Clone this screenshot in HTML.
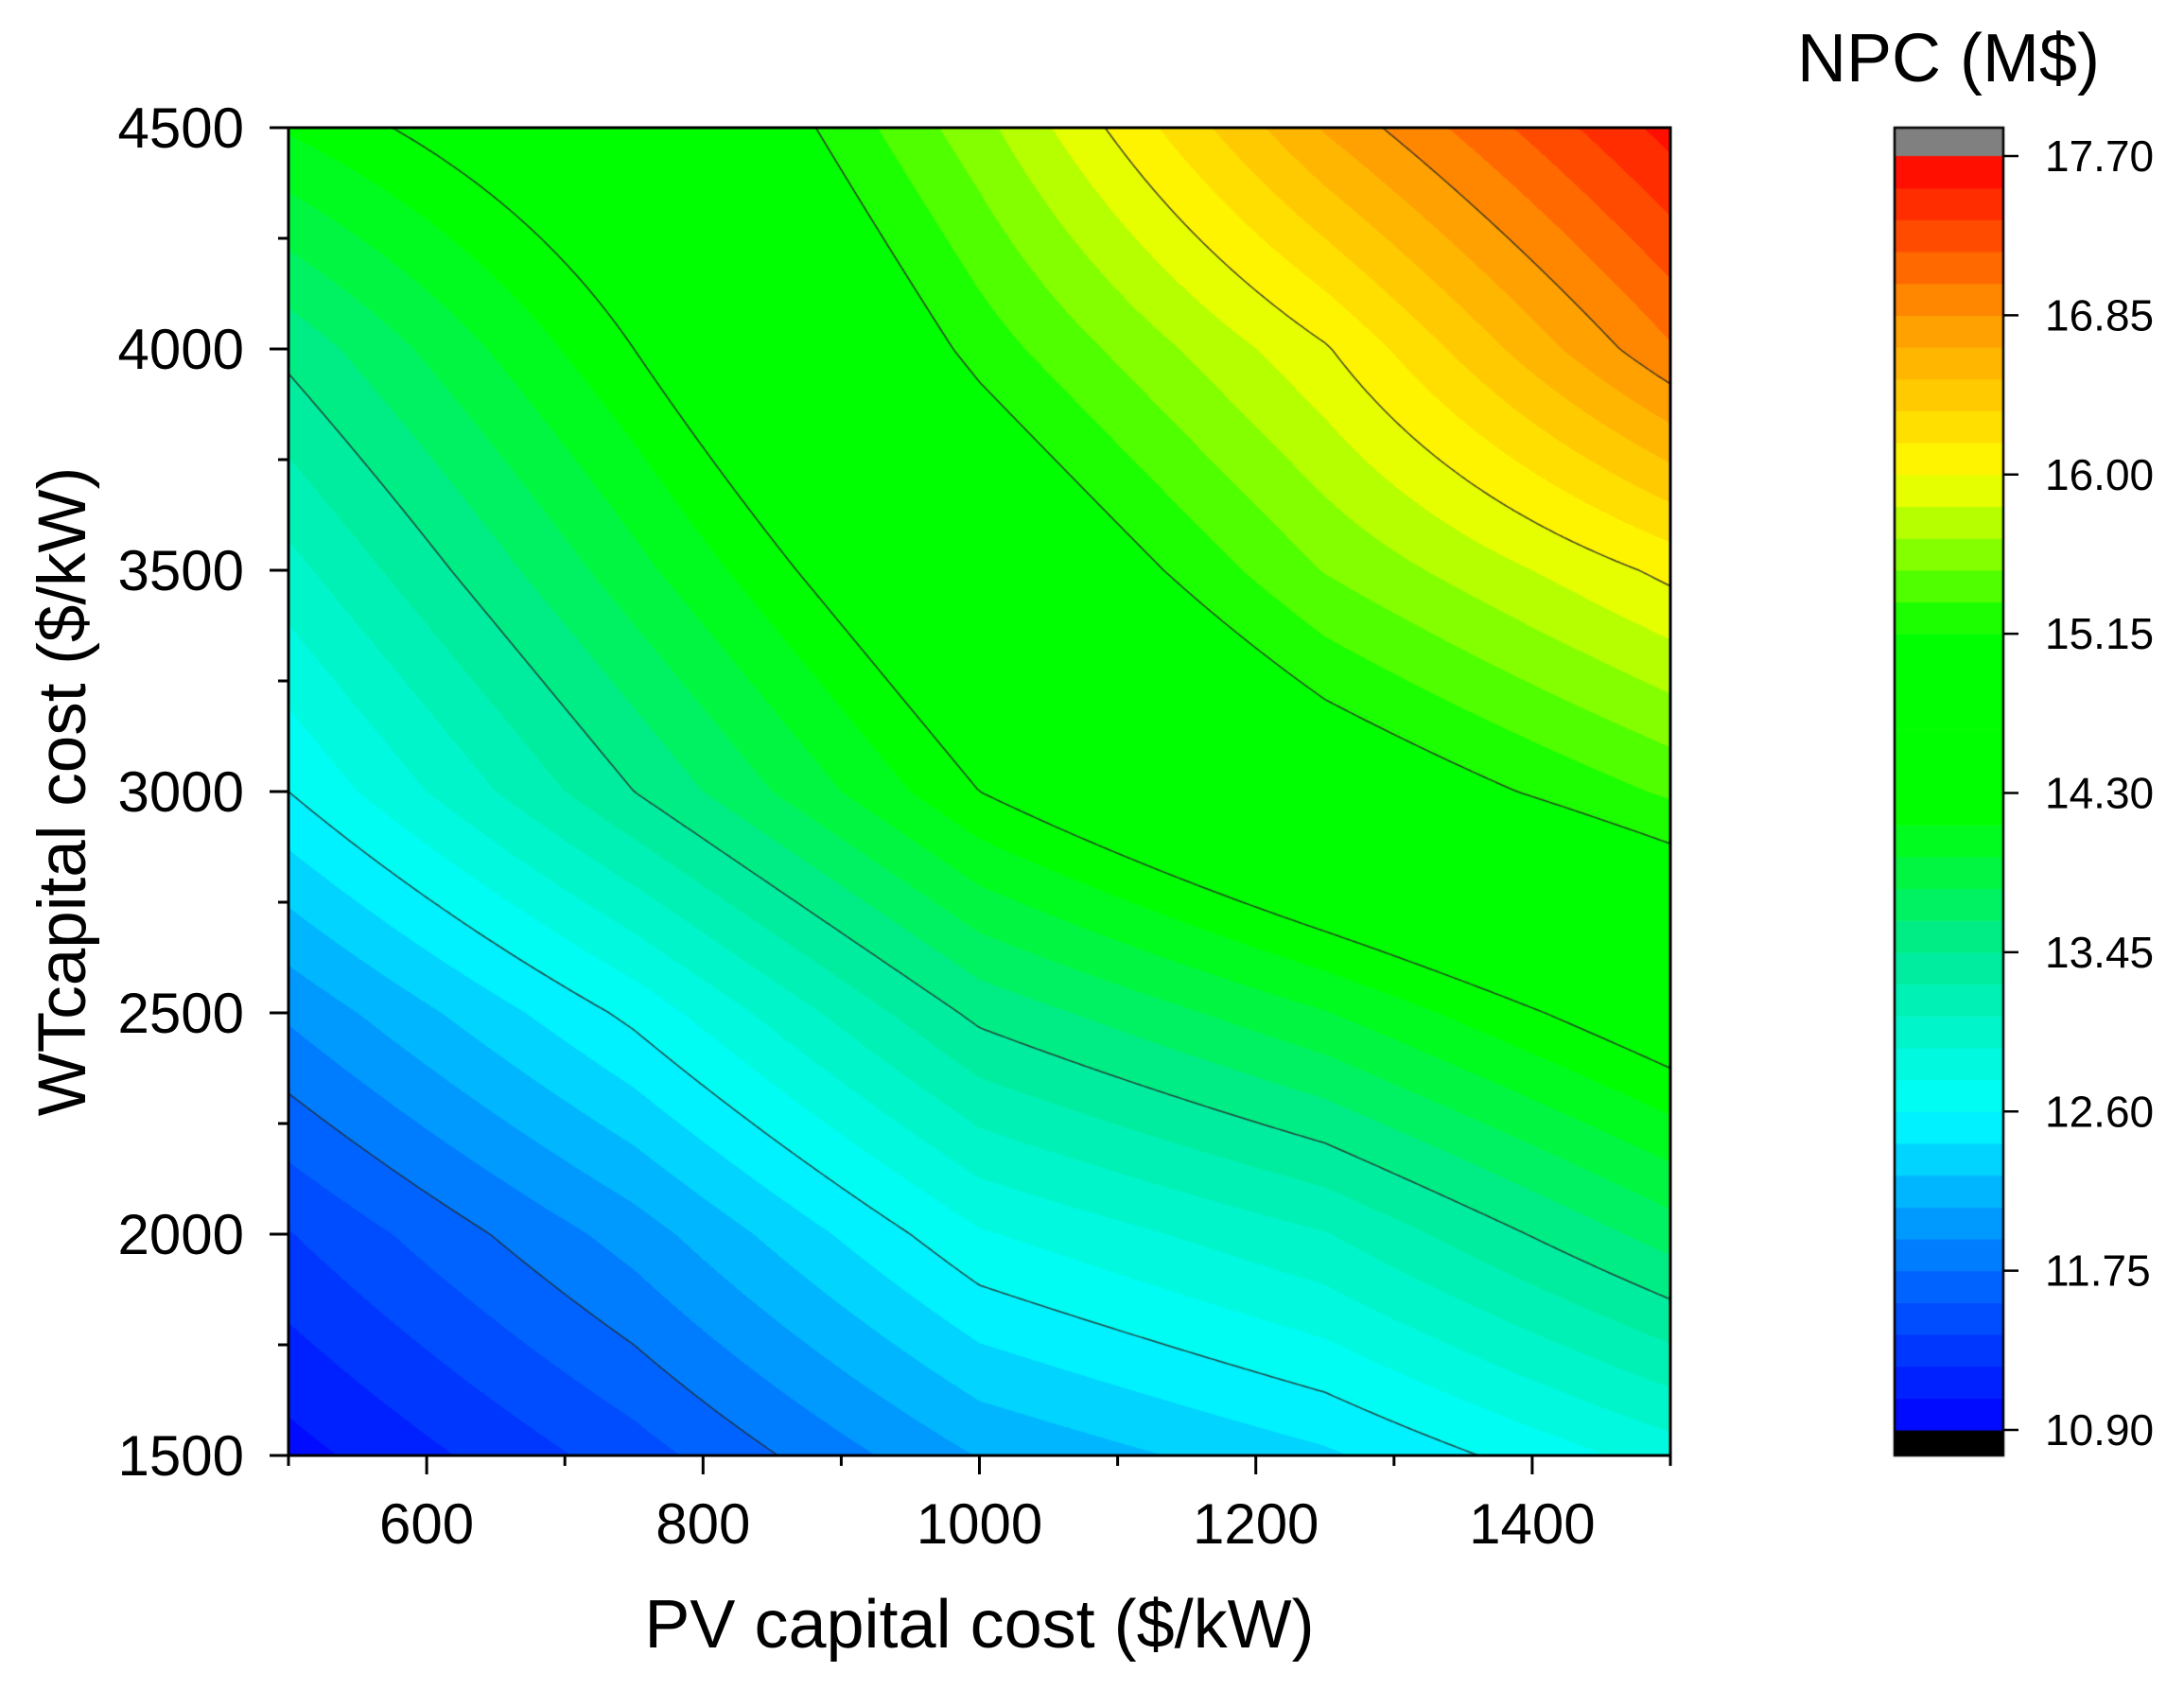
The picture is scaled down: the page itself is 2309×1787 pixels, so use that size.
<!DOCTYPE html>
<html><head><meta charset="utf-8">
<style>
html,body{margin:0;padding:0;background:#fff;}
#wrap{position:relative;width:2309px;height:1787px;overflow:hidden;font-family:"Liberation Sans",sans-serif;}
canvas{position:absolute;left:0;top:0;}
</style></head>
<body>
<div id="wrap">
<canvas id="c" width="2309" height="1787"></canvas>
<svg id="s" width="2309" height="1787" style="position:absolute;left:0;top:0"></svg>
</div>
<script>
// ---- data ----
const pvValues = [500, 750, 1000, 1250, 1500];
const wtValues = [1500, 2000, 2500, 3000, 3500, 4000, 4500];
const npc500  = [11.0, 11.4, 11.95, 12.6, 13.05, 13.5, 14.15];
const npc750  = [11.5, 12.0, 12.65, 13.45, 13.9, 14.3, 14.65];
const npc1000 = [12.1, 12.75, 13.5, 14.3, 14.75, 15.22, 15.6];
const npc1250 = [12.4, 13.1, 13.95, 14.9, 15.5, 15.98, 16.7];
const npc1500 = [12.85, 13.7, 14.5, 15.35, 16.05, 17.0, 17.6];
const xTicks = [600, 800, 1000, 1200, 1400];
const yTicks = [1500, 2000, 2500, 3000, 3500, 4000, 4500];
const cbTicks = ["10.90","11.75","12.60","13.45","14.30","15.15","16.00","16.85","17.70"];
const contourLevels = [11.75, 12.60, 13.45, 14.30, 15.15, 16.00, 16.85];

const grid = [npc500, npc750, npc1000, npc1250, npc1500];
const PL=305, PR=1766, PT=135, PB=1539;
const xMin=500, xMax=1500, yMin=1500, yMax=4500;
const X = v => PL + (v - xMin) / (xMax - xMin) * (PR - PL);
const Y = v => PB - (v - yMin) / (yMax - yMin) * (PB - PT);
const vMin=10.9, vMax=17.7, step=0.17;

function interp(pv, wt){
  let i=0; while(i<pvValues.length-2 && pv>pvValues[i+1]) i++;
  let j=0; while(j<wtValues.length-2 && wt>wtValues[j+1]) j++;
  const tx=(pv-pvValues[i])/(pvValues[i+1]-pvValues[i]);
  const ty=(wt-wtValues[j])/(wtValues[j+1]-wtValues[j]);
  const a=grid[i][j], b=grid[i+1][j], c=grid[i][j+1], d=grid[i+1][j+1];
  return a*(1-tx)*(1-ty)+b*tx*(1-ty)+c*(1-tx)*ty+d*tx*ty;
}
const stops=[[10.9,[0,0,255]],[11.75,[0,110,255]],[12.6,[0,255,255]],[13.45,[0,235,150]],[14.2,[0,255,0]],[15.15,[0,255,0]],[15.5,[110,255,0]],[16.0,[255,255,0]],[16.85,[255,150,0]],[17.7,[255,0,0]]];
function cmap(v){
  if(v<=stops[0][0]) return stops[0][1];
  for(let k=0;k<stops.length-1;k++){
    if(v<=stops[k+1][0]){const t=(v-stops[k][0])/(stops[k+1][0]-stops[k][0]);
      return stops[k][1].map((c,n)=>Math.round(c+(stops[k+1][1][n]-c)*t));}
  }
  return stops[stops.length-1][1];
}
function bandColor(v){
  let b=Math.floor((v-vMin)/step); b=Math.max(0,Math.min(39,b));
  return cmap(vMin+(b+0.5)*step);
}
const ctx=document.getElementById('c').getContext('2d');
const W=PR-PL, H=PB-PT;
const img=ctx.createImageData(W,H);
for(let py=0;py<H;py++){
  const wt=yMax-(py+0.5)/H*(yMax-yMin);
  for(let px=0;px<W;px++){
    const pv=xMin+(px+0.5)/W*(xMax-xMin);
    const c=bandColor(interp(pv,wt));
    const o=(py*W+px)*4; img.data[o]=c[0];img.data[o+1]=c[1];img.data[o+2]=c[2];img.data[o+3]=255;
  }
}
ctx.putImageData(img,PL,PT);
ctx.strokeStyle='rgba(40,40,40,0.85)'; ctx.lineWidth=1.5;
const S=4, nx=Math.ceil(W/S), ny=Math.ceil(H/S);
const val=(i,j)=>interp(xMin+Math.min(i*S,W)/W*(xMax-xMin), yMax-Math.min(j*S,H)/H*(yMax-yMin));
const F=[];for(let i=0;i<=nx;i++){F.push([]);for(let j=0;j<=ny;j++)F[i].push(val(i,j));}
contourLevels.forEach(L=>{
  ctx.beginPath();
  for(let i=0;i<nx;i++)for(let j=0;j<ny;j++){
    const corners=[[i,j],[i+1,j],[i+1,j+1],[i,j+1]];
    const pts=[];
    for(let k=0;k<4;k++){
      const [a1,b1]=corners[k],[a2,b2]=corners[(k+1)%4];
      const v1=F[a1][b1]-L,v2=F[a2][b2]-L;
      if((v1<0)!==(v2<0)){const t=v1/(v1-v2);pts.push([PL+Math.min((a1+(a2-a1)*t)*S,W),PT+Math.min((b1+(b2-b1)*t)*S,H)]);}
    }
    for(let k=0;k+1<pts.length;k+=2){ctx.moveTo(pts[k][0],pts[k][1]);ctx.lineTo(pts[k+1][0],pts[k+1][1]);}
  }
  ctx.stroke();
});
const CL=2003, CR=2118, CT=135, CB=1539, cbTop=165, cbBot=1512;
ctx.fillStyle='#808080';ctx.fillRect(CL,CT,CR-CL,cbTop-CT);
ctx.fillStyle='#000';ctx.fillRect(CL,cbBot,CR-CL,CB-cbBot);
for(let b=0;b<40;b++){
  const c=cmap(vMin+(b+0.5)*step);
  const y1=cbBot-(b+1)/40*(cbBot-cbTop), y0=cbBot-b/40*(cbBot-cbTop);
  ctx.fillStyle=`rgb(${c[0]},${c[1]},${c[2]})`;ctx.fillRect(CL,y1,CR-CL,y0-y1+0.6);
}
ctx.strokeStyle='#000';ctx.lineWidth=2.5;ctx.strokeRect(CL,CT,CR-CL,CB-CT);

const svg=document.getElementById('s');const NS='http://www.w3.org/2000/svg';
function mk(tag,attrs,text){const e=document.createElementNS(NS,tag);for(const k in attrs)e.setAttribute(k,attrs[k]);if(text!==undefined)e.textContent=text;svg.appendChild(e);return e;}
let e=mk('rect',{x:PL,y:PT,width:W,height:H,fill:'none',stroke:'#000','stroke-width':3});


for(let v=500;v<=1500;v+=100){
  const major=v%200===0;
  e=mk('line',{x1:X(v),x2:X(v),y1:PB,y2:PB+(major?20:11),stroke:'#000','stroke-width':3});
  
  
}
xTicks.forEach(v=>{
  e=mk('text',{x:X(v),y:1632,'font-size':60,'text-anchor':'middle'},String(v));
  
  
});
for(let v=1500;v<=4500;v+=250){
  const major=v%500===0;
  e=mk('line',{x1:PL,x2:PL-(major?20:11),y1:Y(v),y2:Y(v),stroke:'#000','stroke-width':3});
  
  
}
yTicks.forEach(v=>{
  e=mk('text',{x:258,y:Y(v)+21,'font-size':60,'text-anchor':'end'},String(v));
  
  
});
e=mk('text',{x:(PL+PR)/2,y:1742,'font-size':72,'text-anchor':'middle'},'PV capital cost ($/kW)');


e=mk('text',{x:0,y:0,'font-size':71,'text-anchor':'middle',transform:`translate(90,${(PT+PB)/2}) rotate(-90)`},'WTcapital cost ($/kW)');


cbTicks.forEach((t,k)=>{
  const y=cbBot-k/(cbTicks.length-1)*(cbBot-cbTop);
  e=mk('line',{x1:CR,x2:CR+16,y1:y,y2:y,stroke:'#000','stroke-width':2.5});
  
  
  e=mk('text',{x:2162,y:y+16,'font-size':46},t);
  
  
});
e=mk('text',{x:2060,y:86,'font-size':72,'text-anchor':'middle'},'NPC (M$)');


</script>
</body></html>
